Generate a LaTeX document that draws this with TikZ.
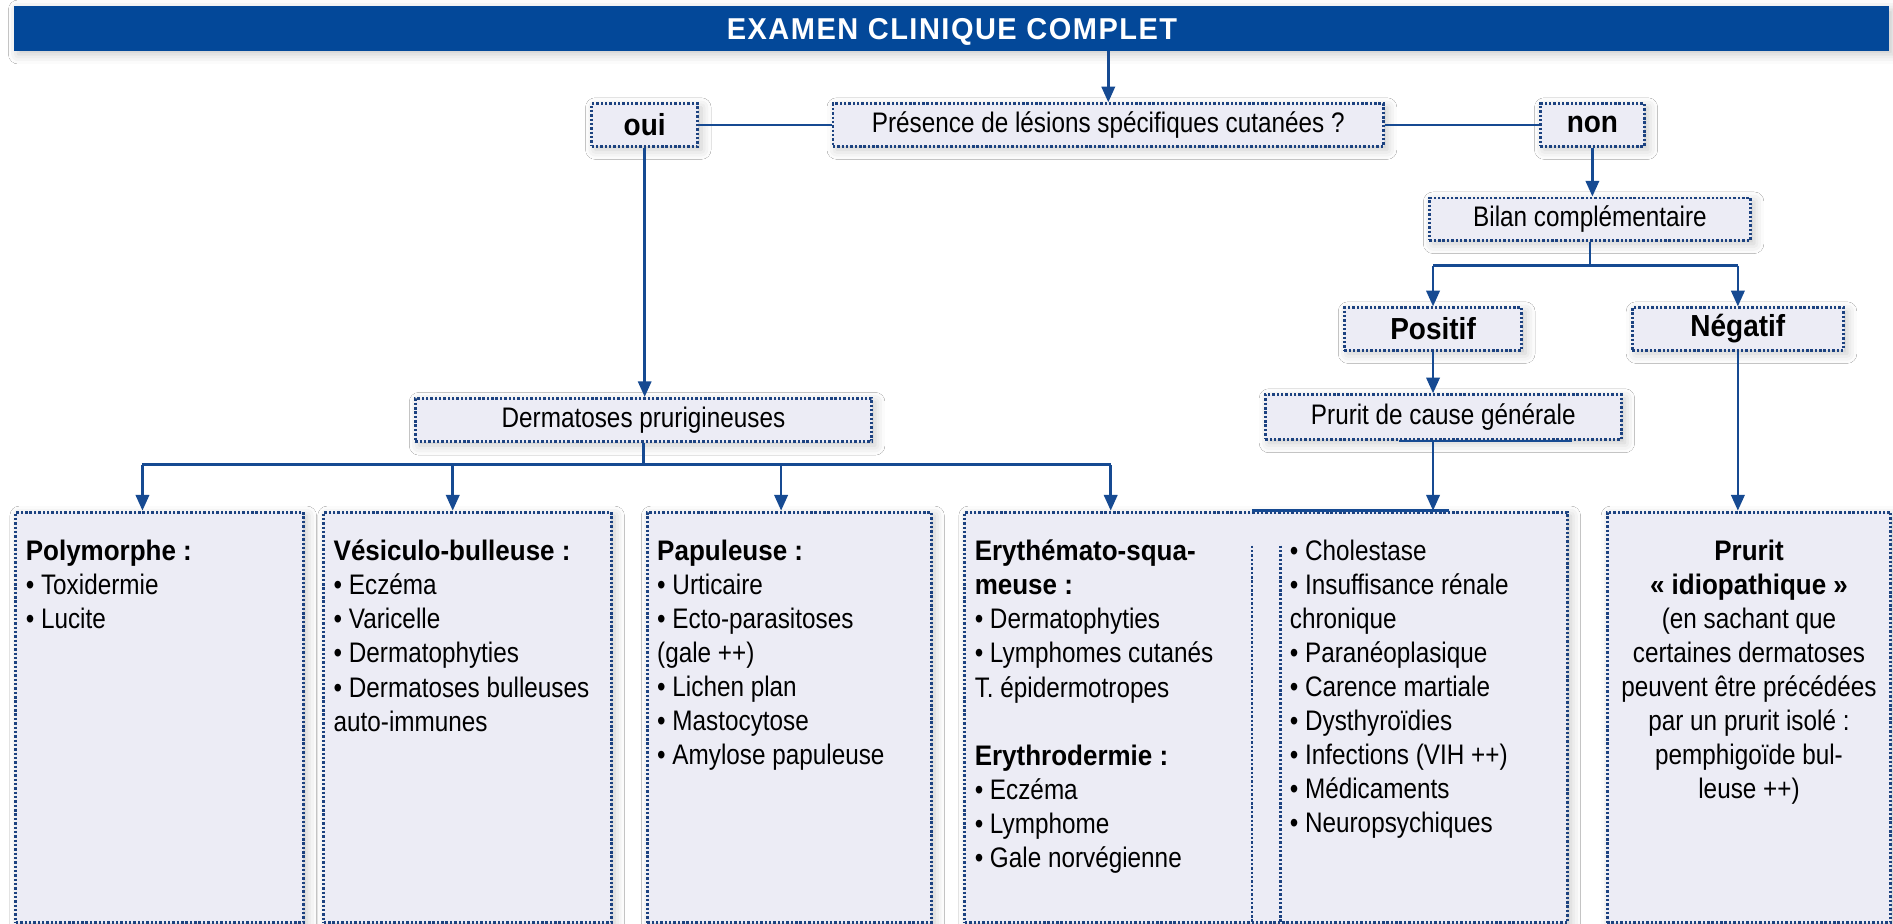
\documentclass[tikz,border=0pt]{standalone}
\usepackage{fontspec}
\setmainfont{Liberation Sans}[
  UprightFeatures={FakeStretch=0.86},
  BoldFeatures={FakeStretch=0.92}]
\newfontfamily\headfont{Liberation Sans}[BoldFeatures={FakeStretch=0.96}, LetterSpace=5]
\usetikzlibrary{arrows.meta,calc,shadows.blur}

\definecolor{hdrblue}{RGB}{3,72,153}
\definecolor{lnblue}{RGB}{22,74,146}
\definecolor{dotblue}{RGB}{28,66,128}
\definecolor{boxfill}{RGB}{236,236,245}

\newcommand{\txtsize}{\fontsize{11.7pt}{14.1pt}\selectfont}
\newcommand{\keysize}{\fontsize{12.6pt}{14.1pt}\selectfont\bfseries}

\tikzset{
  softshadow/.style={blur shadow={shadow xshift=1.5pt, shadow yshift=-1.5pt,
      shadow blur radius=4pt, shadow opacity=22}},
  dotbox/.style={draw=dotblue, line width=1.2pt, dash pattern=on 1pt off 0.8pt,
      fill=boxfill, inner sep=0pt, softshadow},
  labelbox/.style={dotbox, minimum height=17.5pt, font=\txtsize},
  keybox/.style={labelbox, font=\keysize},
  listbox/.style={dotbox, anchor=north west, minimum height=170pt},
  listtext/.style={anchor=north west, inner sep=0pt, align=left, font=\txtsize},
  dotline/.style={draw=dotblue, line width=1.2pt, dash pattern=on 1pt off 0.8pt},
  conn/.style={draw=lnblue, line width=1.1pt},
  arr/.style={conn, -{Triangle[length=6.5pt,width=5.5pt]}},
}

\begin{document}
\begin{tikzpicture}[x=0.5pt, y=-0.5pt]
\fill[white] (0,0) rectangle (1568,765);
\useasboundingbox (0,0) rectangle (1568,765);

% title bar
\node[fill=hdrblue, minimum width=776.5pt, minimum height=18.5pt, inner sep=0pt, softshadow,
      text=white, text height=8.9pt, text depth=0pt,
      font=\headfont\bfseries\fontsize{12.5pt}{13pt}\selectfont]
  (title) at (788.5,23.5) {EXAMEN CLINIQUE COMPLET};

% decision level
\node[labelbox, minimum width=228pt] (quest) at (918,103.5) {Présence de lésions spécifiques cutanées ?};
\node[keybox, minimum width=44pt] (oui) at (534,103.5) {oui};
\node[keybox, minimum width=43pt] (non) at (1319,103.5) {non};
\node[labelbox, minimum width=133pt] (bilan) at (1317,181.5) {Bilan complémentaire};
\node[keybox, minimum width=73.5pt] (pos) at (1187,272.5) {Positif};
\node[keybox, minimum width=87.5pt] (neg) at (1439.5,272.5) {Négatif};
\node[labelbox, minimum width=147.5pt, minimum height=18.5pt] (pcause) at (1195.5,345.5) {Prurit de cause générale};
\node[labelbox, minimum width=189pt, minimum height=18pt] (derm) at (533,348) {Dermatoses prurigineuses};

% bottom boxes
\node[listbox, minimum width=119pt] (poly) at (12,423) {};
\node[listbox, minimum width=119pt] (vesi) at (267,423) {};
\node[listbox, minimum width=117.5pt] (papu) at (535,423) {};
\node[listbox, minimum width=249.5pt] (mid) at (798,423) {};
\node[listbox, minimum width=117.5pt] (idio) at (1330,423) {};

% column separators inside the wide box
\draw[dotline] ($(mid.north west)+(239,29)$) -- ($(mid.south west)+(239,0)$);
\draw[dotline] ($(mid.north west)+(263,29)$) -- ($(mid.south west)+(263,0)$);

% box contents
\node[listtext] (polyT) at ($(poly.north west)+(9,24)$)
  {\textbf{Polymorphe~:}\\• Toxidermie\\• Lucite};
\node[listtext] (vesiT) at ($(vesi.north west)+(9,24)$)
  {\textbf{Vésiculo-bulleuse~:}\\• Eczéma\\• Varicelle\\• Dermatophyties\\• Dermatoses bulleuses\\auto-immunes};
\node[listtext] (papuT) at ($(papu.north west)+(9,24)$)
  {\textbf{Papuleuse~:}\\• Urticaire\\• Ecto-parasitoses\\(gale ++)\\• Lichen plan\\• Mastocytose\\• Amylose papuleuse};
\node[listtext] (erytT) at ($(mid.north west)+(9,24)$)
  {\textbf{Erythémato-squa-}\\\textbf{meuse~:}\\• Dermatophyties\\• Lymphomes cutanés\\T. épidermotropes\\[14.1pt]
   \textbf{Erythrodermie~:}\\• Eczéma\\• Lymphome\\• Gale norvégienne};
\node[listtext] (causT) at ($(mid.north west)+(270,24)$)
  {• Cholestase\\• Insuffisance rénale\\chronique\\• Paranéoplasique\\• Carence martiale\\• Dysthyroïdies\\• Infections (VIH ++)\\• Médicaments\\• Neuropsychiques};
\node[listtext, anchor=north, align=center] (idioT) at ($(idio.north)+(0,24)$)
  {\textbf{Prurit}\\\textbf{«~idiopathique~»}\\(en sachant que\\certaines dermatoses\\peuvent être précédées\\par un prurit isolé~:\\pemphigoïde bul-\\leuse ++)};

% connectors
\draw[arr] (title.south -| quest.north) -- (quest.north);
\draw[conn] (quest.west) -- (oui.east);
\draw[conn] (quest.east) -- (non.west);
\draw[arr] (oui.south) -- (oui.south |- derm.north);
\draw[arr] (non.south) -- (non.south |- bilan.north);

\coordinate (bsL) at (1187,220);
\coordinate (bsR) at (1439.5,220);
\draw[conn] (bilan.south) -- (bilan.south |- bsL);
\draw[conn] (bsL) -- (bsR);
\draw[arr] (bsL) -- (pos.north);
\draw[arr] (bsR) -- (neg.north);
\draw[arr] (pos.south) -- (pos.south |- pcause.north);
\draw[arr] (pcause.south -| pos.south) -- (pos.south |- mid.north);
\draw[arr] (neg.south) -- (neg.south |- idio.north);

% solid overlays on box edges
\draw[conn] ($(pcause.south west)+(112,0)$) -- ($(pcause.south west)+(255,0)$);
\draw[conn] ($(mid.north west)+(239,0)$) -- ($(mid.north west)+(402,0)$);

% branching towards the four dermatosis groups
\coordinate (bus1) at (118,385);
\coordinate (bus2) at (375,385);
\coordinate (bus3) at (647,385);
\coordinate (bus4) at (920,385);
\draw[conn] (derm.south) -- (derm.south |- bus1);
\draw[conn] (bus1) -- (bus4);
\draw[arr] (bus1) -- (bus1 |- poly.north);
\draw[arr] (bus2) -- (bus2 |- vesi.north);
\draw[arr] (bus3) -- (bus3 |- papu.north);
\draw[arr] (bus4) -- (bus4 |- mid.north);
\end{tikzpicture}
\end{document}
